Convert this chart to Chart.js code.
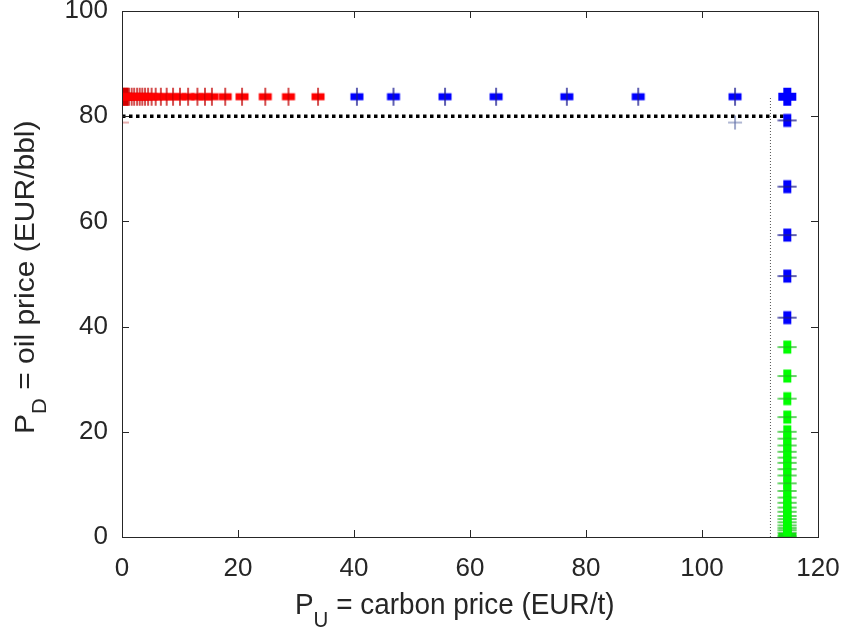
<!DOCTYPE html>
<html>
<head>
<meta charset="utf-8">
<script src="https://cdn.jsdelivr.net/npm/chart.js@4/dist/chart.umd.min.js"></script>
<style>
  html, body { margin: 0; padding: 0; background: #fff; }
  #wrap { width: 843px; height: 630px; }
</style>
</head>
<body>
<div id="wrap"><canvas id="chart" width="843" height="630"></canvas></div>
<script>
// axis ticks
const xTicks = [0, 20, 40, 60, 80, 100, 120];
const yTicks = [0, 20, 40, 60, 80, 100];

// top row: oil price level where carbon price varies
const rowPrice = 83.7;
const redRowX = [0, 0.3, 0.6, 0.9, 1.2, 1.67, 2.1, 2.6, 3.05, 3.5, 3.97, 4.5, 5.1, 5.8, 6.7, 7.7,
  8.8, 10.0, 11.4, 13.0, 14.3, 15.5, 17.8, 20.7, 24.7, 28.7, 33.8];
const blueRowX = [40.5, 46.8, 55.7, 64.5, 76.7, 89.0, 105.7];

// right column: carbon price level where oil price varies
const columnCarbon = 114.7;
const blueColumnY = [79.2, 66.6, 57.4, 49.6, 41.7];
const greenColumnY = [36.1, 30.6, 26.3, 22.8, 20.0, 18.7, 17.4, 16.2, 15.1, 14.1, 12.9, 11.7,
  10.2, 8.75, 7.5, 6.5, 5.6, 4.8, 4.0, 3.4, 2.8, 2.2, 1.7, 1.3, 0.8, 0.3, 0];

// single points
const redStart = { x: 0.6, y: 83.7 };
const blueCorner = { x: 114.7, y: 83.7 };
const greenEnd = { x: 114.7, y: 0 };
const redThin = { x: 0, y: 78.8 };
const blueThin = { x: 105.7, y: 78.8 };

// reference levels (dotted)
const oilRef = 80;
const oilRefX = [0, 114.4];
const carbonRef = 111.8;
const carbonRefY = [0, 83.5];

// marker images
function mark(w, h, draw) {
  const c = document.createElement("canvas");
  c.width = w;
  c.height = h;
  draw(c.getContext("2d"));
  return c;
}
function hMark(fill, line) {
  return mark(20, 20, (g) => {
    g.fillStyle = fill;
    g.fillRect(3.5, 6.5, 13, 7);
    g.strokeStyle = line;
    g.lineWidth = 1.4;
    g.beginPath();
    g.moveTo(10, 1);
    g.lineTo(10, 19);
    g.stroke();
  });
}
function vMark(fill, line) {
  return mark(20, 20, (g) => {
    g.fillStyle = fill;
    g.fillRect(6, 3.5, 8, 13);
    g.strokeStyle = line;
    g.lineWidth = 1.4;
    g.beginPath();
    g.moveTo(0.5, 10);
    g.lineTo(19.5, 10);
    g.stroke();
  });
}
function bigPlus(fill) {
  return mark(22, 22, (g) => {
    g.fillStyle = fill;
    g.fillRect(2, 7, 18, 8);
    g.fillRect(7, 2, 8, 18);
  });
}
function thinPlus(line) {
  return mark(16, 16, (g) => {
    g.strokeStyle = line;
    g.lineWidth = 1.2;
    g.beginPath();
    g.moveTo(1, 8);
    g.lineTo(15, 8);
    g.moveTo(8, 1);
    g.lineTo(8, 15);
    g.stroke();
  });
}
function tallBlock(fill) {
  return mark(14, 20, (g) => {
    g.fillStyle = fill;
    g.fillRect(0, 1, 10, 18);
    g.fillRect(0, 6, 14, 8);
  });
}

function pts(p) {
  return { data: p, showLine: false, pointRadius: 10, order: 0 };
}

const datasets = [
  // dotted reference lines
  {
    data: oilRefX.map((x) => ({ x, y: oilRef })),
    showLine: true, pointRadius: 0, borderColor: "#000", borderWidth: 3.5,
    borderDash: [3.5, 3.5], order: 10,
  },
  {
    data: carbonRefY.map((y) => ({ x: carbonRef, y })),
    showLine: true, pointRadius: 0, borderColor: "#555", borderWidth: 1,
    borderDash: [1, 2], order: 10,
  },
  Object.assign(pts(redRowX.map((x) => ({ x, y: rowPrice }))), { pointStyle: hMark("#ff0000", "#c00000") }),
  Object.assign(pts([redStart]), { pointStyle: tallBlock("#ff0000") }),
  Object.assign(pts(blueRowX.map((x) => ({ x, y: rowPrice }))), { pointStyle: hMark("#0000ff", "#1a1a90") }),
  Object.assign(pts(blueColumnY.map((y) => ({ x: columnCarbon, y }))), { pointStyle: vMark("#0000ff", "#1a1a90") }),
  Object.assign(pts(greenColumnY.map((y) => ({ x: columnCarbon, y }))), { pointStyle: vMark("#00ff00", "#20c020") }),
  Object.assign(pts([blueCorner]), { pointStyle: bigPlus("#0000ff") }),
  Object.assign(pts([greenEnd]), { pointStyle: bigPlus("#00ff00") }),
  Object.assign(pts([redThin]), { pointStyle: thinPlus("#d06060") }),
  Object.assign(pts([blueThin]), { pointStyle: thinPlus("#6070a8") }),
];

// box with inward ticks, drawn over the markers
const boxPlugin = {
  id: "box",
  afterDatasetsDraw(chart) {
    const { ctx, chartArea: a, scales } = chart;
    ctx.save();
    ctx.strokeStyle = "#262626";
    ctx.lineWidth = 1;
    ctx.strokeRect(a.left + 0.5, a.top + 0.5, a.right - a.left, a.bottom - a.top);
    ctx.beginPath();
    xTicks.forEach((v) => {
      const px = Math.round(scales.x.getPixelForValue(v)) + 0.5;
      ctx.moveTo(px, a.bottom);
      ctx.lineTo(px, a.bottom - 7);
      ctx.moveTo(px, a.top);
      ctx.lineTo(px, a.top + 7);
    });
    yTicks.forEach((v) => {
      const py = Math.round(scales.y.getPixelForValue(v)) + 0.5;
      ctx.moveTo(a.left, py);
      ctx.lineTo(a.left + 7, py);
      ctx.moveTo(a.right, py);
      ctx.lineTo(a.right - 7, py);
    });
    ctx.stroke();
    ctx.restore();
  },
};

// axis titles with subscripts
const titleFace = "'Liberation Sans', Arial, sans-serif";
function subText(ctx, x, y, main, sub, rest) {
  ctx.font = "30px " + titleFace;
  ctx.fillText(main, x, y);
  let w = ctx.measureText(main).width;
  ctx.font = "22px " + titleFace;
  ctx.fillText(sub, x + w, y + 13);
  w += ctx.measureText(sub).width;
  ctx.font = "30px " + titleFace;
  ctx.fillText(rest, x + w, y);
}
const titlePlugin = {
  id: "titles",
  afterDraw(chart) {
    const ctx = chart.ctx;
    ctx.save();
    ctx.fillStyle = "#262626";
    ctx.textBaseline = "alphabetic";
    ctx.textAlign = "left";
    ctx.save();
    ctx.translate(295, 614);
    ctx.scale(0.93, 1);
    subText(ctx, 0, 0, "P", "U", " = carbon price (EUR/t)");
    ctx.restore();
    ctx.translate(34, 434);
    ctx.rotate(-Math.PI / 2);
    ctx.scale(1, 0.92);
    subText(ctx, 0, 0, "P", "D", " = oil price (EUR/bbl)");
    ctx.restore();
  },
};

const tickFont = { family: "'Liberation Sans', Arial, sans-serif", size: 26 };

new Chart(document.getElementById("chart").getContext("2d"), {
  type: "scatter",
  data: { datasets },
  options: {
    responsive: false,
    animation: false,
    layout: { padding: { top: 11, right: 25, left: 0, bottom: 0 } },
    plugins: { legend: { display: false }, tooltip: { enabled: false } },
    scales: {
      x: {
        type: "linear", min: 0, max: 120,
        afterBuildTicks: (s) => { s.ticks = xTicks.map((v) => ({ value: v })); },
        ticks: { font: tickFont, color: "#262626", padding: 16, maxRotation: 0 },
        grid: { display: false, drawTicks: false },
        border: { display: false },
        afterFit: (s) => { s.height = 93; s.paddingLeft = 0; s.paddingRight = 0; },
      },
      y: {
        type: "linear", min: 0, max: 100,
        afterBuildTicks: (s) => { s.ticks = yTicks.map((v) => ({ value: v })); },
        ticks: { font: tickFont, color: "#262626", padding: 14 },
        grid: { display: false, drawTicks: false },
        border: { display: false },
        afterFit: (s) => { s.width = 122; s.paddingTop = 0; s.paddingBottom = 0; },
      },
    },
  },
  plugins: [boxPlugin, titlePlugin],
});
</script>
</body>
</html>
